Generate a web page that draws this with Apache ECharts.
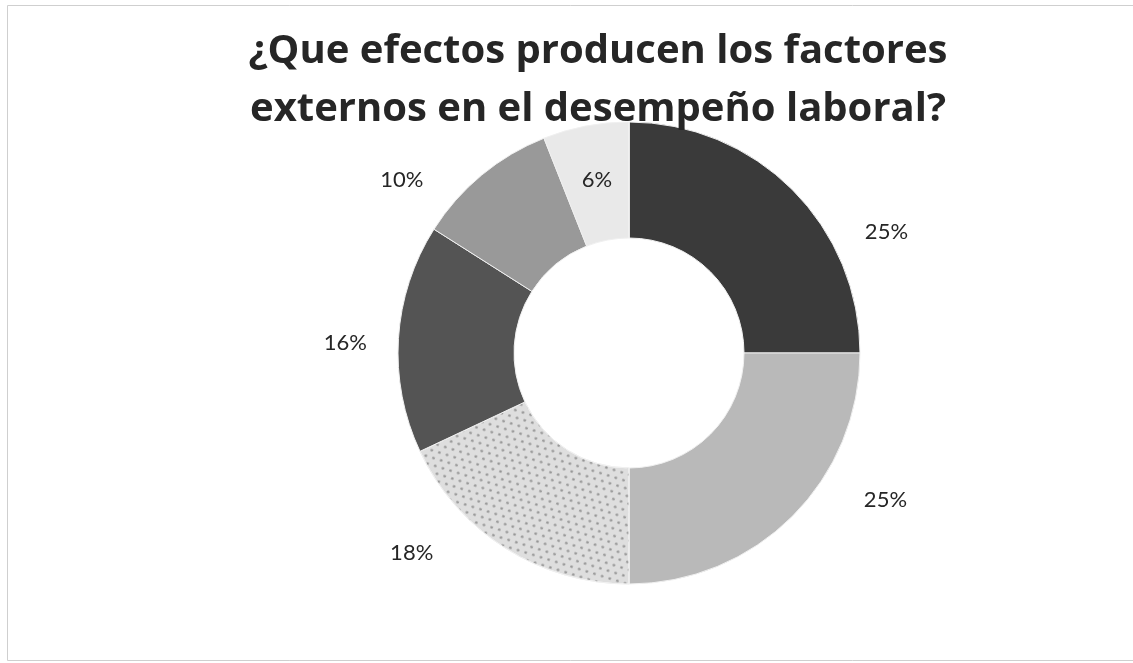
<!DOCTYPE html>
<html>
<head>
<meta charset="utf-8">
<script src="https://cdn.jsdelivr.net/npm/echarts@6/dist/echarts.min.js"></script>
<style>
html,body{margin:0;padding:0;background:#fff;}
#c{width:1133px;height:663px;}
</style>
</head>
<body>
<div id="c"></div>
<script>
const titleLines = ['¿Que efectos producen los factores', 'externos en el desempeño laboral?'];
const categories = ['A', 'B', 'C', 'D', 'E', 'F', 'G'];
const values = [25, 25, 18, 16, 10, 6, 0];
const labels = ['25%', '25%', '18%', '16%', '10%', '6%', '0%'];

const sliceColors = ['#3a3a3a', '#b9b9b9', '#dedede', '#545454', '#999999', '#e9e9e9', '#ffffff'];
const labelOffsets = [[133, 3], [132, 22], [-123, 51], [-108, 1], [-115, -37], [1, 0], [0, 0]];

const chart = echarts.init(document.getElementById('c'), null, {renderer: 'canvas'});

const data = categories.map((c, i) => {
  const item = {
    name: c,
    value: values[i],
    itemStyle: {color: sliceColors[i]},
    label: {show: values[i] > 0, formatter: labels[i], offset: labelOffsets[i]}
  };
  if (i === 2) {
    item.itemStyle.decal = {
      symbol: 'circle',
      symbolSize: 0.9,
      color: 'rgba(100,100,100,0.6)',
      dashArrayX: [[3, 5], [0, 4, 3, 1]],
      dashArrayY: [3, 4],
      rotation: 0.3
    };
  }
  return item;
});

chart.setOption({
  animation: false,
  backgroundColor: '#ffffff',
  title: {
    text: titleLines.join('\n'),
    left: 593,
    top: 18,
    textAlign: 'center',
    textStyle: {
      fontFamily: 'Open Sans',
      fontWeight: 'bold',
      fontSize: 40,
      lineHeight: 58,
      color: '#262626'
    }
  },
  graphic: [{
    type: 'rect',
    shape: {x: 7.5, y: 5.5, width: 1140, height: 655},
    style: {fill: 'none', stroke: '#cfcfcf', lineWidth: 1},
    silent: true,
    z: -1
  }],
  series: [{
    type: 'pie',
    center: [629, 353],
    radius: [115, 231],
    startAngle: 90,
    clockwise: true,
    avoidLabelOverlap: false,
    silent: true,
    itemStyle: {borderColor: '#f0f0f0', borderWidth: 1},
    label: {
      position: 'inside',
      color: '#262626',
      fontFamily: 'Lato',
      fontSize: 22
    },
    labelLine: {show: false},
    data: data
  }]
});
</script>
</body>
</html>
